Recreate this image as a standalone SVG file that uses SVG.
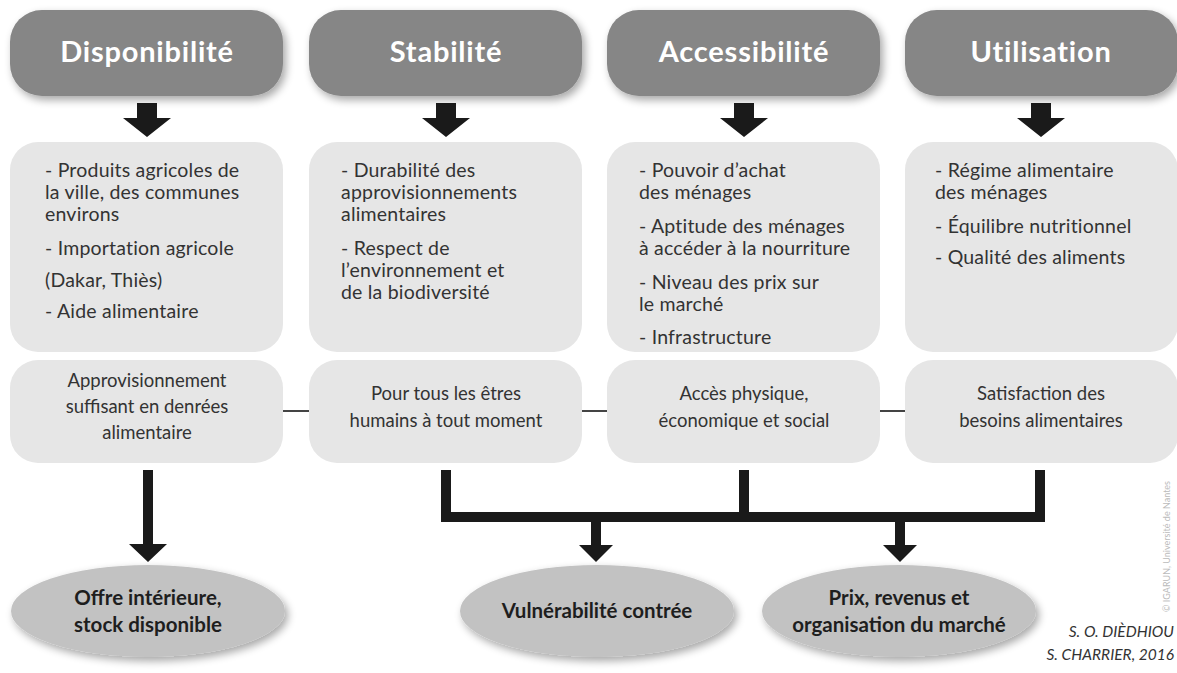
<svg xmlns="http://www.w3.org/2000/svg" width="1177" height="673" viewBox="0 0 1177 673">
<defs>
<filter id="sh" x="-10%" y="-20%" width="125%" height="150%">
<feGaussianBlur in="SourceAlpha" stdDeviation="4"/>
<feOffset dx="3" dy="4" result="b"/>
<feComponentTransfer><feFuncA type="linear" slope="0.35"/></feComponentTransfer>
<feMerge><feMergeNode/><feMergeNode in="SourceGraphic"/></feMerge>
</filter>
</defs>
<style>
.hdr{fill:#868686;filter:url(#sh)}
.box{fill:#e6e6e6}
.ell{fill:#c2c2c2;filter:url(#sh)}
.ht{font-family:Lato,"Liberation Sans",sans-serif;font-weight:bold;font-size:29px;letter-spacing:0.8px;fill:#ffffff;text-anchor:middle}
.bt{font-family:Lato,"Liberation Sans",sans-serif;font-size:19.5px;letter-spacing:0.2px;fill:#333333}
.ct{font-family:Lato,"Liberation Sans",sans-serif;font-size:18.5px;fill:#333333;text-anchor:middle}
.et{font-family:Lato,"Liberation Sans",sans-serif;font-weight:bold;font-size:20.5px;fill:#1e1e1e;text-anchor:middle}
.cr{font-family:Lato,"Liberation Sans",sans-serif;font-style:italic;font-size:15.5px;fill:#333333;text-anchor:end}
.cp{font-family:Lato,"Liberation Sans",sans-serif;font-size:9px;fill:#bbbbbb}
.arr{fill:#1a1a1a}
.thin{stroke:#444444;stroke-width:2}
</style>
<rect width="1177" height="673" fill="#ffffff"/>

<g id="connectors">
<polygon class="arr" points="137,103 157,103 157,118 171,118 147,137 123,118 137,118"/>
<polygon class="arr" points="436,103 456,103 456,118 470,118 446,137 422,118 436,118"/>
<polygon class="arr" points="734,103 754,103 754,118 768,118 744,137 720,118 734,118"/>
<polygon class="arr" points="1031,103 1051,103 1051,118 1065,118 1041,137 1017,118 1031,118"/>
<line class="thin" x1="283" y1="411" x2="310" y2="411"/>
<line class="thin" x1="581" y1="411" x2="608" y2="411"/>
<line class="thin" x1="879" y1="411" x2="906" y2="411"/>
<polygon class="arr" points="143,470 153,470 153,544 167,544 148,562 129,544 143,544"/>
<rect class="arr" x="441" y="470" width="10" height="52"/>
<rect class="arr" x="739" y="470" width="10" height="52"/>
<rect class="arr" x="1035" y="470" width="10" height="52"/>
<rect class="arr" x="441" y="512" width="604" height="10"/>
<polygon class="arr" points="591,522 601,522 601,545 613,545 596,562 579,545 591,545"/>
<polygon class="arr" points="895,522 905,522 905,545 917,545 900,562 883,545 895,545"/>
</g>

<g id="h-disponibilite"><rect class="hdr" x="10" y="10" width="273" height="86" rx="32"/><text class="ht" x="147" y="62">Disponibilité</text></g>
<g id="h-stabilite"><rect class="hdr" x="309" y="10" width="273" height="86" rx="32"/><text class="ht" x="446" y="62">Stabilité</text></g>
<g id="h-accessibilite"><rect class="hdr" x="607" y="10" width="273" height="86" rx="32"/><text class="ht" x="744" y="62">Accessibilité</text></g>
<g id="h-utilisation"><rect class="hdr" x="905" y="10" width="273" height="86" rx="32"/><text class="ht" x="1041" y="62">Utilisation</text></g>

<g id="d-disponibilite"><rect class="box" x="10" y="142" width="273" height="210" rx="28"/>
<text class="bt" x="45" y="177">- Produits agricoles de</text>
<text class="bt" x="45" y="199">la ville, des communes</text>
<text class="bt" x="45" y="221">environs</text>
<text class="bt" x="45" y="255">- Importation agricole</text>
<text class="bt" x="45" y="287">(Dakar, Thiès)</text>
<text class="bt" x="45" y="318">- Aide alimentaire</text>
</g>
<g id="d-stabilite"><rect class="box" x="309" y="142" width="273" height="210" rx="28"/>
<text class="bt" x="341" y="177">- Durabilité des</text>
<text class="bt" x="341" y="199">approvisionnements</text>
<text class="bt" x="341" y="221">alimentaires</text>
<text class="bt" x="341" y="255">- Respect de</text>
<text class="bt" x="341" y="277">l’environnement et</text>
<text class="bt" x="341" y="299">de la biodiversité</text>
</g>
<g id="d-accessibilite"><rect class="box" x="607" y="142" width="273" height="210" rx="28"/>
<text class="bt" x="639" y="177">- Pouvoir d’achat</text>
<text class="bt" x="639" y="199">des ménages</text>
<text class="bt" x="639" y="233">- Aptitude des ménages</text>
<text class="bt" x="639" y="255">à accéder à la nourriture</text>
<text class="bt" x="639" y="289">- Niveau des prix sur</text>
<text class="bt" x="639" y="311">le marché</text>
<text class="bt" x="639" y="344">- Infrastructure</text>
</g>
<g id="d-utilisation"><rect class="box" x="905" y="142" width="273" height="210" rx="28"/>
<text class="bt" x="935" y="177">- Régime alimentaire</text>
<text class="bt" x="935" y="199">des ménages</text>
<text class="bt" x="935" y="233">- Équilibre nutritionnel</text>
<text class="bt" x="935" y="264">- Qualité des aliments</text>
</g>

<g id="s-disponibilite"><rect class="box" x="10" y="360" width="273" height="103" rx="28"/>
<text class="ct" x="147" y="387">Approvisionnement</text>
<text class="ct" x="147" y="413">suffisant en denrées</text>
<text class="ct" x="147" y="439">alimentaire</text>
</g>
<g id="s-stabilite"><rect class="box" x="309" y="360" width="273" height="103" rx="28"/>
<text class="ct" x="446" y="400">Pour tous les êtres</text>
<text class="ct" x="446" y="427">humains à tout moment</text>
</g>
<g id="s-accessibilite"><rect class="box" x="607" y="360" width="273" height="103" rx="28"/>
<text class="ct" x="744" y="400">Accès physique,</text>
<text class="ct" x="744" y="427">économique et social</text>
</g>
<g id="s-utilisation"><rect class="box" x="905" y="360" width="273" height="103" rx="28"/>
<text class="ct" x="1041" y="400">Satisfaction des</text>
<text class="ct" x="1041" y="427">besoins alimentaires</text>
</g>

<g id="e-offre"><ellipse class="ell" cx="148" cy="611" rx="137" ry="46"/>
<text class="et" x="148" y="605">Offre intérieure,</text>
<text class="et" x="148" y="632">stock disponible</text>
</g>
<g id="e-vulnerabilite"><ellipse class="ell" cx="597" cy="611" rx="137" ry="46"/>
<text class="et" x="597" y="618">Vulnérabilité contrée</text>
</g>
<g id="e-prix"><ellipse class="ell" cx="899" cy="611" rx="137" ry="46"/>
<text class="et" x="899" y="605">Prix, revenus et</text>
<text class="et" x="899" y="632">organisation du marché</text>
</g>

<g id="credits">
<text class="cr" x="1174" y="637">S. O. DIÈDHIOU</text>
<text class="cr" x="1174" y="660">S. CHARRIER, 2016</text>
<text class="cp" transform="translate(1170,612) rotate(-90)">© IGARUN, Université de Nantes</text>
</g>
</svg>
